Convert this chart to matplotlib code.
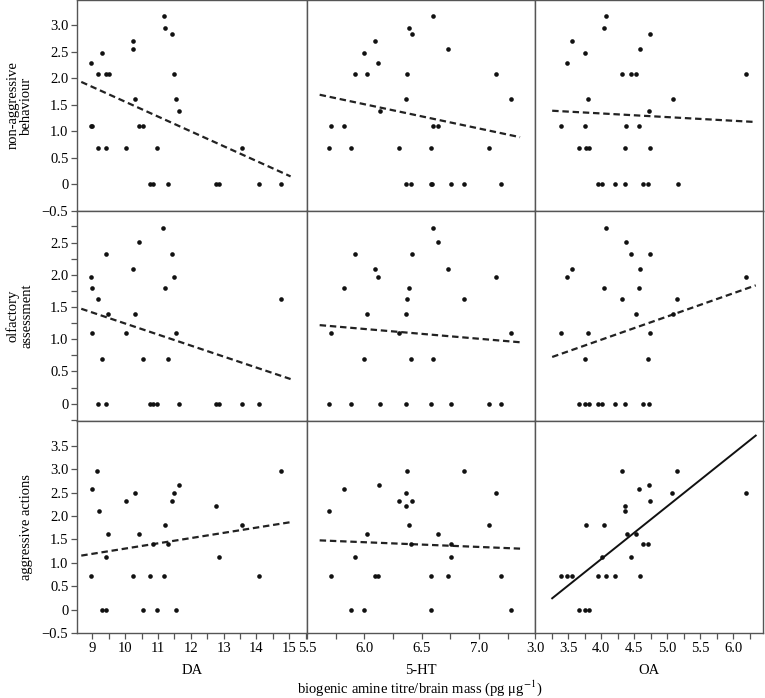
"""Behaviour scores against biogenic amine titres (3x3 scatter grid)."""

import numpy as np
import matplotlib
matplotlib.use("Agg")
import matplotlib.pyplot as plt
from matplotlib.ticker import MultipleLocator, FixedLocator, FuncFormatter

plt.rcParams['font.family'] = 'Liberation Serif'
plt.rcParams['mathtext.fontset'] = 'stix'
plt.rcParams['font.size'] = 10.5

# amine names (columns) and behaviour names (rows)
amines = ['DA', '5-HT', 'OA']
behaviours = ['non-aggressive\nbehaviour', 'olfactory\nassessment', 'aggressive actions']
x_label = 'biogenic amine titre/brain mass (pg μg$^{-1}$)'

# row 1: non-aggressive behaviour
nonagg_da_x = [11.18, 11.21, 11.44, 10.24, 10.24, 9.30, 8.95, 9.16, 9.41, 9.50, 11.49, 10.31, 11.55, 11.63, 8.97,
               9.00, 10.41, 10.53, 9.18, 9.42, 10.02, 10.98, 13.55, 10.76, 10.84, 11.30, 12.76, 12.87, 14.09, 14.75]
nonagg_ht_x = [6.60, 6.39, 6.42, 6.09, 6.73, 6.00, 6.12, 5.92, 6.02, 6.37, 7.15, 6.36, 7.28, 6.14, 5.71,
               5.82, 6.60, 6.64, 5.69, 5.88, 6.30, 6.58, 7.09, 6.36, 6.41, 6.58, 6.59, 6.76, 6.87, 7.19]
nonagg_oa_x = [4.07, 4.04, 4.74, 3.56, 4.59, 3.76, 3.49, 4.32, 4.46, 4.53, 6.20, 3.80, 5.09, 4.72, 3.40,
               3.75, 4.38, 4.58, 3.66, 3.77, 3.81, 4.36, 4.74, 3.96, 4.01, 4.21, 4.36, 4.64, 4.71, 5.16]
nonagg_y = [3.17, 2.94, 2.83, 2.70, 2.56, 2.48, 2.29, 2.08, 2.08, 2.08, 2.08, 1.61, 1.61, 1.39, 1.10,
            1.10, 1.10, 1.10, 0.69, 0.69, 0.69, 0.69, 0.69, 0, 0, 0, 0, 0, 0, 0]

# row 2: olfactory assessment
olf_da_x = [11.16, 10.41, 9.42, 11.44, 10.24, 8.95, 11.49, 8.99, 11.21, 9.16, 14.75, 9.48, 10.31, 8.99, 10.02,
            11.55, 9.30, 10.53, 11.30, 9.18, 9.42, 10.76, 10.84, 10.98, 11.63, 12.76, 12.87, 13.55, 14.09]
olf_da_y = [2.72, 2.51, 2.32, 2.32, 2.09, 1.96, 1.96, 1.80, 1.80, 1.62, 1.62, 1.39, 1.39, 1.10, 1.10,
            1.10, 0.69, 0.69, 0.69, 0, 0, 0, 0, 0, 0, 0, 0, 0, 0]
olf_ht_x = [6.60, 6.64, 5.92, 6.42, 6.09, 6.73, 6.12, 7.15, 5.82, 6.39, 6.37, 6.87, 6.02, 6.36, 5.71,
            6.30, 7.28, 6.00, 6.41, 6.60, 5.69, 5.88, 6.14, 6.36, 6.58, 6.76, 7.09, 7.19]
olf_ht_y = [2.72, 2.51, 2.32, 2.32, 2.09, 2.09, 1.96, 1.96, 1.80, 1.80, 1.62, 1.62, 1.39, 1.39, 1.10,
            1.10, 1.10, 0.69, 0.69, 0.69, 0, 0, 0, 0, 0, 0, 0, 0]
olf_oa_x = [4.07, 4.38, 4.46, 4.74, 3.56, 4.59, 3.49, 6.20, 4.04, 4.58, 4.32, 5.15, 4.53, 5.09, 3.40,
            3.80, 4.74, 3.76, 4.71, 3.66, 3.76, 3.81, 3.96, 4.01, 4.21, 4.36, 4.64, 4.72]
olf_oa_y = [2.72, 2.51, 2.32, 2.32, 2.09, 2.09, 1.96, 1.96, 1.80, 1.80, 1.62, 1.62, 1.39, 1.39, 1.10,
            1.10, 1.10, 0.69, 0.69, 0, 0, 0, 0, 0, 0, 0, 0, 0]

# row 3: aggressive actions
agg_da_x = [9.15, 14.75, 8.99, 11.63, 10.31, 11.49, 10.02, 11.44, 12.76, 9.19, 11.21, 13.55, 9.48, 10.41,
            10.84, 11.30, 9.42, 12.87, 8.95, 10.24, 10.76, 11.18, 14.09, 9.29, 9.42, 10.53, 10.98, 11.55]
agg_da_y = [2.96, 2.96, 2.58, 2.66, 2.50, 2.50, 2.32, 2.32, 2.22, 2.10, 1.81, 1.81, 1.62, 1.62,
            1.40, 1.40, 1.12, 1.12, 0.71, 0.71, 0.71, 0.71, 0.71, 0, 0, 0, 0, 0]
agg_ht_x = [6.37, 6.87, 6.13, 5.82, 6.36, 7.15, 6.30, 6.42, 6.36, 5.69, 6.39, 7.09, 6.02, 6.64,
            6.41, 6.76, 5.92, 6.76, 5.71, 6.09, 6.12, 6.58, 6.73, 7.19, 5.88, 6.00, 6.58, 7.28]
agg_ht_y = [2.96, 2.96, 2.66, 2.58, 2.50, 2.50, 2.32, 2.32, 2.22, 2.10, 1.81, 1.81, 1.62, 1.62,
            1.40, 1.40, 1.12, 1.12, 0.71, 0.71, 0.71, 0.71, 0.71, 0.71, 0, 0, 0, 0]
agg_oa_x = [4.31, 5.15, 4.72, 4.58, 5.08, 6.20, 4.74, 4.36, 4.36, 3.77, 4.04, 4.39, 4.53, 4.64,
            4.71, 4.01, 4.46, 3.40, 3.49, 3.56, 3.96, 4.07, 4.21, 4.59, 3.66, 3.75, 3.81]
agg_oa_y = [2.96, 2.96, 2.66, 2.58, 2.50, 2.50, 2.32, 2.22, 2.10, 1.81, 1.81, 1.62, 1.62, 1.40,
            1.40, 1.12, 1.12, 0.71, 0.71, 0.71, 0.71, 0.71, 0.71, 0.71, 0, 0, 0]

panels = [
    [(nonagg_da_x, nonagg_y), (nonagg_ht_x, nonagg_y), (nonagg_oa_x, nonagg_y)],
    [(olf_da_x, olf_da_y), (olf_ht_x, olf_ht_y), (olf_oa_x, olf_oa_y)],
    [(agg_da_x, agg_da_y), (agg_ht_x, agg_ht_y), (agg_oa_x, agg_oa_y)],
]

# regression lines as printed (slope, intercept)
fit_slope = [[-0.279, -0.457, -0.069],
             [-0.171, -0.152, 0.361],
             [0.112, -0.101, 1.129]]
fit_intercept = [[4.348, 4.254, 1.614],
                 [2.953, 2.071, -0.453],
                 [0.184, 2.046, -3.439]]
# only OA vs aggressive actions is significant (solid line)
significant = [[False, False, False], [False, False, False], [False, False, True]]

FRAME = '#555555'


def fmt_tick(v, pos):
    if abs(v) < 1e-9:
        return '0'
    return f'{v:.1f}'.replace('-', '\u2212')


def main():
    fig = plt.figure(figsize=(7.65, 6.98), dpi=100)
    W, H = 765.0, 698.0
    col_edges = [77, 307, 535, 763]
    row_edges = [0, 211, 421, 633]

    xlims = [(8.53, 15.54), (5.5, 7.49), (3.0, 6.45)]
    xmajor = [np.arange(9, 15.5, 1), np.arange(5.5, 7.1, 0.5), np.arange(3.0, 6.1, 0.5)]
    xminor = [0.5, 0.25, 0.25]
    ylims = [(-0.5, 3.475), (-0.27, 2.99), (-0.5, 4.03)]
    ymajor = [np.arange(-0.5, 3.1, 0.5), np.arange(0, 2.6, 0.5), np.arange(-0.5, 3.6, 0.5)]

    for r in range(3):
        for c in range(3):
            x0, x1 = col_edges[c], col_edges[c + 1]
            y0, y1 = row_edges[r], row_edges[r + 1]
            ax = fig.add_axes([x0 / W, 1 - y1 / H, (x1 - x0) / W, (y1 - y0) / H])
            xs, ys = np.array(panels[r][c][0]), np.array(panels[r][c][1])

            ax.scatter(xs, ys, s=11, color='#111111', linewidths=0, zorder=3)

            # fitted line drawn across the data range, padded by 5 %
            pad = 0.05 * (xs.max() - xs.min())
            fx = np.array([xs.min() - pad, xs.max() + pad])
            fy = fit_intercept[r][c] + fit_slope[r][c] * fx
            if significant[r][c]:
                ax.plot(fx, fy, color='#111111', lw=1.4)
            else:
                ax.plot(fx, fy, color='#222222', lw=1.6, linestyle=(0, (2.9, 1.7)))

            ax.set_xlim(*xlims[c])
            ax.set_ylim(*ylims[r])
            for sp in ax.spines.values():
                sp.set_color(FRAME)
                sp.set_linewidth(1.0)

            ax.tick_params(direction='out', length=4.2, width=0.9, color=FRAME, labelsize=10.5, pad=2)
            ax.tick_params(which='minor', direction='out', length=4.2, width=0.9, color=FRAME)

            if c == 0:
                ax.yaxis.set_major_locator(FixedLocator(ymajor[r]))
                ax.yaxis.set_major_formatter(FuncFormatter(fmt_tick))
                if r == 1:
                    ax.yaxis.set_minor_locator(MultipleLocator(0.25))
                ax.set_ylabel(behaviours[r], fontsize=10.5, linespacing=1.1)
                ax.yaxis.set_label_coords(-0.19, 0.5)
            else:
                ax.set_yticks([])

            if r == 2:
                ax.xaxis.set_major_locator(FixedLocator(xmajor[c]))
                ax.xaxis.set_minor_locator(MultipleLocator(xminor[c]))
                if c == 0:
                    ax.xaxis.set_major_formatter(FuncFormatter(lambda v, p: f'{v:.0f}'))
                else:
                    ax.xaxis.set_major_formatter(FuncFormatter(lambda v, p: f'{v:.1f}'))
                ax.set_xlabel(amines[c], fontsize=10.5, labelpad=7)
            else:
                ax.set_xticks([])

    fig.text(420 / W, 1 - 688 / H, x_label, ha='center', va='center', fontsize=10.5)
    fig.savefig('out.png', dpi=100)


if __name__ == "__main__":
    main()
